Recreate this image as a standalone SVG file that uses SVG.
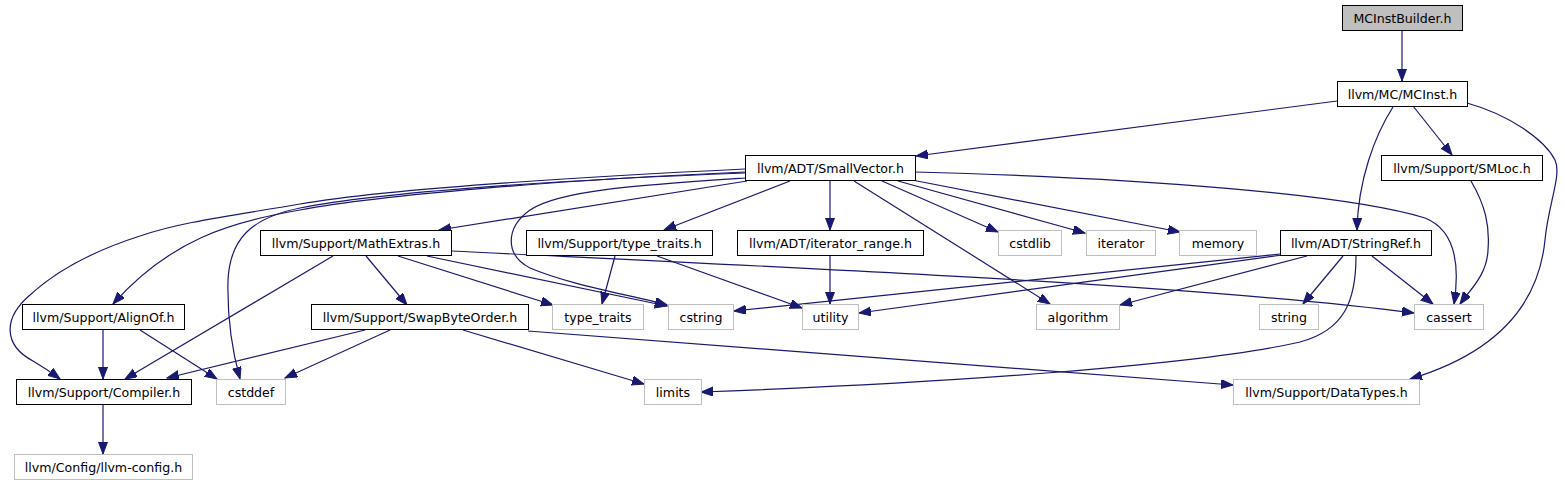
<svg xmlns="http://www.w3.org/2000/svg" width="1565" height="485" viewBox="0 0 1565 485">
<style>
.n rect{fill:#fff;stroke:#000;stroke-width:1}
.g rect{fill:#fff;stroke:#bfbfbf;stroke-width:1}
.root rect{fill:#bfbfbf;stroke:#000;stroke-width:1}
text{font-family:"DejaVu Sans","Liberation Sans",sans-serif;font-size:12.6px;fill:#000;text-anchor:middle}
.e path{fill:none;stroke:#191970;stroke-width:1.2;marker-end:url(#a)}
</style>
<defs>
<marker id="a" markerUnits="userSpaceOnUse" markerWidth="13" markerHeight="10" refX="12" refY="4.5" orient="auto">
<path d="M0,0 L12,4.5 L0,9 z" fill="#191970" stroke="#191970" stroke-width="1"/>
</marker>
</defs>
<rect width="1565" height="485" fill="#fff"/>
<g class="e" id="edges">
<path d="M1402,31 L1402,81"/>
<path d="M1337,101 L916,156"/>
<path d="M1413,106 L1452,155"/>
<path d="M1393,107 C1375,135 1358,180 1357,230"/>
<path d="M1467,103 C1510,115 1545,140 1555,160 C1562,175 1548,205 1545,240 C1538,310 1490,355 1410,379"/>
<path d="M1471,181 C1485,205 1490,225 1488,250 C1487,275 1470,290 1460,304"/>
<path d="M915,172 C1150,178 1350,195 1425,218 C1455,230 1460,265 1454,304"/>
<path d="M747,181 L439,230"/>
<path d="M790,181 L664,230"/>
<path d="M830,181 L830,230"/>
<path d="M882,181 L998,232"/>
<path d="M898,181 L1085,233"/>
<path d="M912,180 L1180,232"/>
<path d="M854,181 L1050,304"/>
<path d="M745,178 C640,185 560,190 530,210 C505,228 505,255 530,268 C570,285 630,295 667,305"/>
<path d="M745,172 C560,180 380,195 300,210 C230,222 170,240 113,304"/>
<path d="M745,169 C560,178 380,190 300,204 C230,216 180,222 140,236 C90,252 55,272 30,295 C3,318 3,345 33,361 C45,368 52,373 60,379"/>
<path d="M745,173 C560,180 380,192 300,208 C250,218 230,240 228,280 C227,320 232,350 240,379"/>
<path d="M366,256 L407,305"/>
<path d="M333,256 L125,379"/>
<path d="M398,256 L553,305"/>
<path d="M427,256 L667,306"/>
<path d="M451,251 C800,268 1200,285 1414,313"/>
<path d="M615,256 L602,304"/>
<path d="M657,256 L802,308"/>
<path d="M830,256 L830,304"/>
<path d="M1280,254 L734,311"/>
<path d="M1282,255 L859,313"/>
<path d="M1307,256 L1120,305"/>
<path d="M1343,256 L1303,304"/>
<path d="M1372,256 L1433,304"/>
<path d="M1356,256 C1356,300 1345,330 1300,342 C1200,365 950,383 701,392"/>
<path d="M463,330 L644,384"/>
<path d="M528,331 L1233,385"/>
<path d="M390,330 L285,378"/>
<path d="M365,330 L167,378"/>
<path d="M103,330 L103,379"/>
<path d="M140,330 L217,379"/>
<path d="M103,404 L103,454"/>
</g>
<g id="n_MCInstBuilder" class="root"><rect x="1342.5" y="5.5" width="120" height="25"/><text x="1402.5" y="22.5">MCInstBuilder.h</text></g>
<g id="n_MCInst" class="n"><rect x="1337.5" y="81.5" width="130" height="25"/><text x="1402.5" y="98.5">llvm/MC/MCInst.h</text></g>
<g id="n_SmallVector" class="n"><rect x="745.5" y="155.5" width="170" height="25"/><text x="830.5" y="172.5">llvm/ADT/SmallVector.h</text></g>
<g id="n_SMLoc" class="n"><rect x="1381.5" y="155.5" width="161" height="25"/><text x="1462" y="172.5">llvm/Support/SMLoc.h</text></g>
<g id="n_StringRef" class="n"><rect x="1280.5" y="230.5" width="151" height="25"/><text x="1356" y="247.5">llvm/ADT/StringRef.h</text></g>
<g id="n_MathExtras" class="n"><rect x="260.5" y="230.5" width="191" height="25"/><text x="356" y="247.5">llvm/Support/MathExtras.h</text></g>
<g id="n_type_traits_h" class="n"><rect x="526.5" y="230.5" width="186" height="25"/><text x="619.5" y="247.5">llvm/Support/type_traits.h</text></g>
<g id="n_iterator_range" class="n"><rect x="737.5" y="230.5" width="186" height="25"/><text x="830.5" y="247.5">llvm/ADT/iterator_range.h</text></g>
<g id="n_cstdlib" class="g"><rect x="998.5" y="230.5" width="63" height="25"/><text x="1030" y="247.5">cstdlib</text></g>
<g id="n_iterator" class="g"><rect x="1086.5" y="230.5" width="69" height="25"/><text x="1121" y="247.5">iterator</text></g>
<g id="n_memory" class="g"><rect x="1179.5" y="230.5" width="77" height="25"/><text x="1218" y="247.5">memory</text></g>
<g id="n_AlignOf" class="n"><rect x="22.5" y="304.5" width="162" height="25"/><text x="103.5" y="321.5">llvm/Support/AlignOf.h</text></g>
<g id="n_SwapByteOrder" class="n"><rect x="311.5" y="304.5" width="217" height="25"/><text x="420" y="321.5">llvm/Support/SwapByteOrder.h</text></g>
<g id="n_type_traits" class="g"><rect x="552.5" y="304.5" width="91" height="25"/><text x="598" y="321.5">type_traits</text></g>
<g id="n_cstring" class="g"><rect x="668.5" y="304.5" width="65" height="25"/><text x="701" y="321.5">cstring</text></g>
<g id="n_utility" class="g"><rect x="802.5" y="304.5" width="56" height="25"/><text x="830.5" y="321.5">utility</text></g>
<g id="n_algorithm" class="g"><rect x="1036.5" y="304.5" width="83" height="25"/><text x="1078" y="321.5">algorithm</text></g>
<g id="n_string" class="g"><rect x="1259.5" y="304.5" width="59" height="25"/><text x="1289" y="321.5">string</text></g>
<g id="n_cassert" class="g"><rect x="1414.5" y="304.5" width="69" height="25"/><text x="1449" y="321.5">cassert</text></g>
<g id="n_Compiler" class="n"><rect x="16.5" y="379.5" width="175" height="25"/><text x="104" y="396.5">llvm/Support/Compiler.h</text></g>
<g id="n_cstddef" class="g"><rect x="216.5" y="379.5" width="69" height="25"/><text x="251" y="396.5">cstddef</text></g>
<g id="n_limits" class="g"><rect x="644.5" y="379.5" width="57" height="25"/><text x="673" y="396.5">limits</text></g>
<g id="n_DataTypes" class="g"><rect x="1233.5" y="379.5" width="186" height="25"/><text x="1326.5" y="396.5">llvm/Support/DataTypes.h</text></g>
<g id="n_llvm_config" class="g"><rect x="14.5" y="454.5" width="178" height="25"/><text x="103.5" y="471.5">llvm/Config/llvm-config.h</text></g>
</svg>
